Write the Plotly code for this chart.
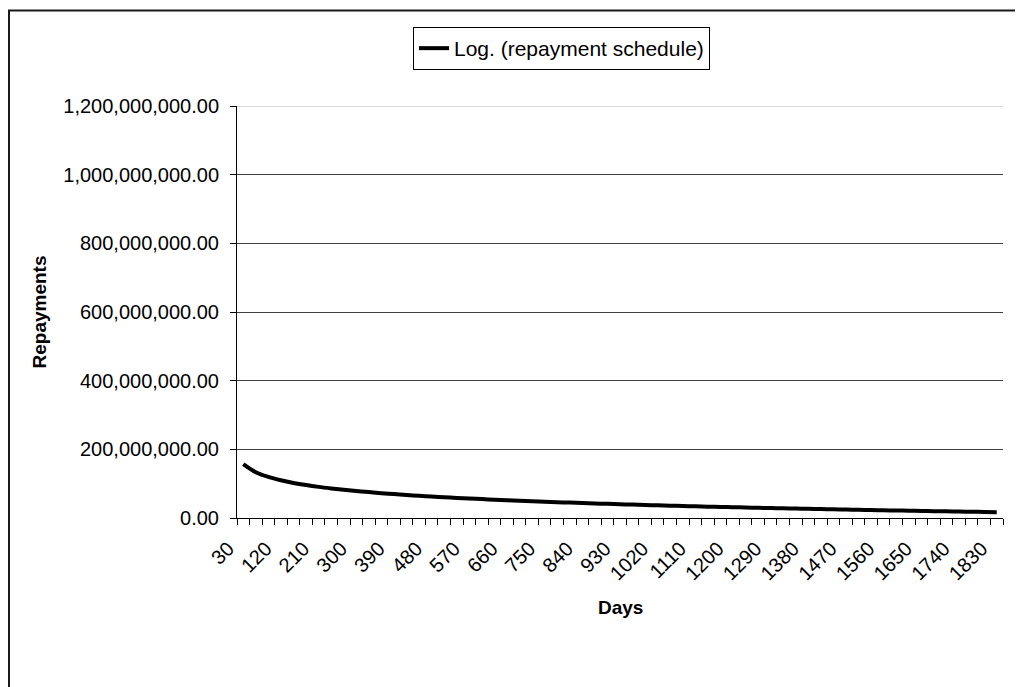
import plotly.graph_objects as go

# Categories (days) and values (log trendline of repayment schedule)
days = list(range(30, 1831, 30))
repayments = [
    157000000, 133400000, 119600000, 109800000, 102200000, 96000000, 90700000, 86200000,
    82200000, 78600000, 75400000, 72400000, 69700000, 67100000, 64800000, 62600000,
    60500000, 58600000, 56700000, 55000000, 53300000, 51700000, 50200000, 48800000,
    47400000, 46100000, 44800000, 43500000, 42300000, 41200000, 40100000, 39000000,
    37900000, 36900000, 35900000, 35000000, 34000000, 33100000, 32300000, 31400000,
    30600000, 29700000, 28900000, 28100000, 27400000, 26600000, 25900000, 25200000,
    24500000, 23800000, 23100000, 22500000, 21800000, 21200000, 20500000, 19900000,
    19300000, 18700000, 18200000, 17600000, 17000000,
]
x_tick_labels = [str(d) for d in days[::3]]
y_ticks = [0, 200000000, 400000000, 600000000, 800000000, 1000000000, 1200000000]

FONT = "Liberation Sans, Arial, sans-serif"
W, H = 1023, 687
OFF = 8  # page body margin
L, T = 237 - OFF, 106 - OFF
R = W - (1003 - OFF)
B = H - (518 - OFF)
pw, ph = W - L - R, H - T - B


def px_x(p):
    return (p - OFF - L) / pw


def px_y(p):
    return (518 - p) / ph


step = days[1] - days[0]
boundaries = [d - step / 2 for d in days] + [days[-1] + step / 2]

fig = go.Figure()
fig.add_trace(go.Scatter(
    x=days, y=repayments, mode="lines",
    name="Log. (repayment schedule)",
    line=dict(color="#000000", width=4, shape="spline"),
))

fig.update_layout(
    width=W, height=H,
    margin=dict(l=L, r=R, t=T, b=B),
    paper_bgcolor="white", plot_bgcolor="white",
    font=dict(family=FONT, size=20, color="#000000"),
    showlegend=True,
    legend=dict(
        x=px_x(413), y=px_y(27), xanchor="left", yanchor="top",
        bordercolor="#000000", borderwidth=1, bgcolor="white",
        font=dict(family=FONT, size=21), itemwidth=30,
    ),
    xaxis=dict(
        range=[boundaries[0], boundaries[-1]],
        tickmode="array", tickvals=days[::3], ticktext=x_tick_labels,
        tickangle=-45, ticks="outside", ticklen=7, tickcolor="rgba(0,0,0,0)",
        ticklabelshift=-15, ticklabelstandoff=3,
        showline=True, linecolor="#000000", linewidth=1,
        showgrid=False, zeroline=False, automargin=False,
        minor=dict(tickmode="array", tickvals=boundaries, ticks="outside",
                   ticklen=6, tickcolor="#000000", tickwidth=1, showgrid=False),
        tickfont=dict(family=FONT, size=20),
    ),
    yaxis=dict(
        range=[0, 1200000000],
        tickmode="array", tickvals=y_ticks, tickformat=",.2f",
        ticks="outside", ticklen=6, tickcolor="#000000",
        ticklabelstandoff=7,
        showline=True, linecolor="#000000", linewidth=1,
        showgrid=True, gridcolor="#404040", gridwidth=1,
        zeroline=False, automargin=False,
        title=dict(text="<b>Repayments</b>", font=dict(family=FONT, size=19), standoff=11),
        tickfont=dict(family=FONT, size=20),
    ),
    annotations=[
        dict(text="<b>Days</b>", xref="paper", yref="paper",
             x=0.5, y=px_y(607), xanchor="center", yanchor="middle",
             showarrow=False, font=dict(family=FONT, size=19)),
    ],
    shapes=[
        dict(type="line", xref="paper", yref="y", x0=0, x1=1,
             y0=y_ticks[-1], y1=y_ticks[-1], line=dict(color="#dddddd", width=2)),
        dict(type="rect", xref="paper", yref="paper",
             x0=(1 - L) / pw, x1=(1040 - L) / pw,
             y0=px_y(720), y1=px_y(10.5),
             line=dict(color="#1a1a1a", width=2), fillcolor="rgba(0,0,0,0)"),
    ],
)

fig.write_html("out.html")
